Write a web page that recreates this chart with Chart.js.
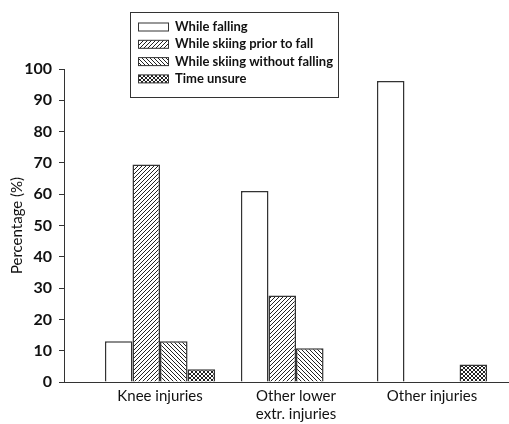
<!DOCTYPE html>
<html lang="en">
<head>
    <meta charset="UTF-8">
    <title>Injuries by timing</title>
    <script src="https://cdn.jsdelivr.net/npm/chart.js"></script>
    <style>
        body { margin: 0; background: #fff; }
        #wrap { width: 509px; height: 424px; }
    </style>
</head>
<body>
    <div id="wrap"><canvas id="myChart" width="509" height="424"></canvas></div>

    <script>
        // Data
        const categories = ['Knee injuries', 'Other lower\nextr. injuries', 'Other injuries'];
        const seriesLabels = ['While falling', 'While skiing prior to fall', 'While skiing without falling', 'Time unsure'];
        const whileFalling = [13, 61, 96.2];
        const priorToFall = [69.5, 27.6, 0];
        const withoutFalling = [13, 10.8, 0];
        const timeUnsure = [4.1, 0, 5.6];
        const yTicks = [0, 10, 20, 30, 40, 50, 60, 70, 80, 90, 100];

        const ink = '#333';
        const face = 'Lato';

        // small tiled hatch fills
        function makePattern(kind) {
            const c = document.createElement('canvas');
            c.width = 4; c.height = 4;
            const g = c.getContext('2d');
            g.fillStyle = '#fff';
            g.fillRect(0, 0, 4, 4);
            if (kind === 'none') return '#fff';
            g.fillStyle = '#222';
            for (let i = 0; i < 4; i++) {
                if (kind === 'fwd' || kind === 'cross') g.fillRect(i, 3 - i, 1, 1);
                if (kind === 'back' || kind === 'cross') g.fillRect(i, i, 1, 1);
            }
            return g.createPattern(c, 'repeat');
        }

        const fills = [makePattern('none'), makePattern('fwd'), makePattern('back'), makePattern('cross')];
        const seriesValues = [whileFalling, priorToFall, withoutFalling, timeUnsure];

        const datasets = seriesLabels.map((label, s) => ({
            label: label,
            data: categories.map((c, i) => ({ x: i + 1, y: seriesValues[s][i] })),
            backgroundColor: fills[s],
            borderColor: ink,
            borderWidth: 1.5,
            borderSkipped: 'bottom',
            categoryPercentage: 0.81,
            barPercentage: 1
        }));

        // legend box drawn over the plot
        const boxLegend = {
            id: 'boxLegend',
            afterDraw(chart) {
                const ctx = chart.ctx;
                ctx.save();
                ctx.strokeStyle = ink;
                ctx.lineWidth = 1;
                ctx.fillStyle = '#fff';
                ctx.fillRect(130.5, 12.5, 208, 85);
                ctx.strokeRect(130.5, 12.5, 208, 85);
                ctx.font = 'bold 13px ' + face;
                ctx.textBaseline = 'middle';
                chart.data.datasets.forEach((ds, i) => {
                    const y = 27 + i * 17.3;
                    ctx.fillStyle = ds.backgroundColor;
                    ctx.fillRect(138.5, y - 4, 30, 8);
                    ctx.strokeRect(138.5, y - 4, 30, 8);
                    ctx.fillStyle = '#111';
                    ctx.fillText(ds.label, 175, y);
                });
                ctx.restore();
            }
        };

        new Chart(document.getElementById('myChart').getContext('2d'), {
            type: 'bar',
            data: { datasets: datasets },
            options: {
                responsive: false,
                animation: false,
                layout: { padding: { top: 69, right: 0, bottom: 0, left: 0 } },
                plugins: { legend: { display: false }, tooltip: { enabled: false } },
                scales: {
                    x: {
                        type: 'linear',
                        offset: false,
                        min: 0.294,
                        max: 3.566,
                        grid: { display: false, drawTicks: false },
                        border: { display: true, color: ink, width: 1 },
                        afterBuildTicks: (scale) => { scale.ticks = categories.map((c, i) => ({ value: i + 1 })); },
                        afterFit: (scale) => { scale.height = 42; },
                        ticks: {
                            padding: 5,
                            color: '#111',
                            font: { family: face, size: 15 },
                            maxRotation: 0,
                            autoSkip: false,
                            callback: (v) => categories[v - 1].split('\n')
                        }
                    },
                    y: {
                        min: 0,
                        max: 100,
                        grid: { drawOnChartArea: false, drawTicks: true, tickLength: 5, color: ink },
                        border: { display: true, color: ink, width: 1 },
                        afterBuildTicks: (scale) => { scale.ticks = yTicks.map(v => ({ value: v })); },
                        afterFit: (scale) => { scale.width = 64; },
                        title: {
                            display: true,
                            text: 'Percentage (%)',
                            color: '#111',
                            font: { family: face, size: 15 },
                            padding: { top: 8, bottom: 0 }
                        },
                        ticks: {
                            padding: 7,
                            color: '#111',
                            font: { family: face, size: 16, weight: 'bold' }
                        }
                    }
                }
            },
            plugins: [boxLegend]
        });
    </script>
</body>
</html>
